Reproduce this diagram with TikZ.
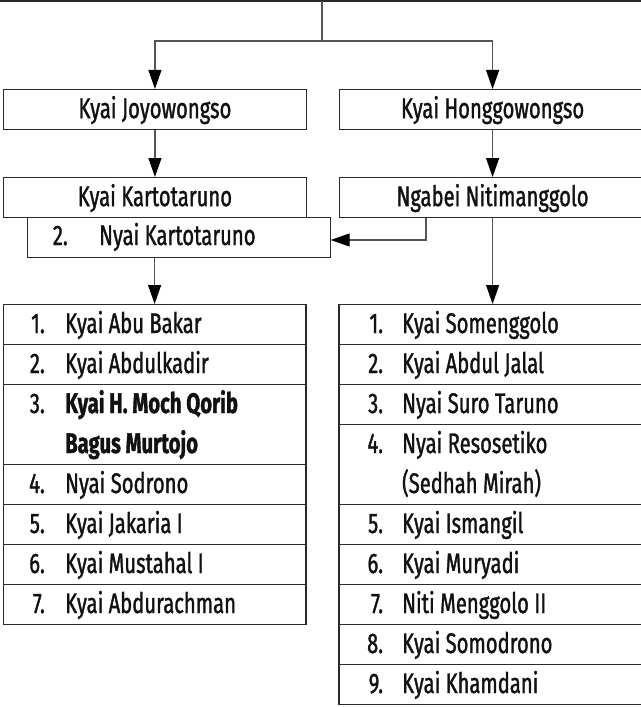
\documentclass[tikz,border=0pt]{standalone}
\usepackage{fontspec}
\setmainfont{Fira Sans}[FakeStretch=0.715, FakeBold=1.2]
\usetikzlibrary{arrows.meta}
\definecolor{boxc}{HTML}{2A2A2A}
\definecolor{linec}{HTML}{555555}
\definecolor{txtc}{HTML}{111111}
\tikzset{
  box/.style={draw=boxc, line width=1.2bp, fill=white, inner sep=0pt, text height=17bp, text depth=0pt, anchor=north west, text=txtc},
  rowbox/.style={draw=boxc, line width=1.2bp, fill=white, inner sep=0pt, anchor=north west},
  conn/.style={draw=linec, line width=1.1bp},
  arr/.style={conn, -{Triangle[length=19bp,width=13bp,color=black]}},
  lbl/.style={inner sep=0pt, anchor=base west, text=txtc},
  num/.style={inner sep=0pt, anchor=base east, text=txtc}
}
\newcommand\listrow[9]{%
  \node[rowbox, minimum width={(#3-#2)*1bp}, minimum height={(#5-#4)*1bp}] (#1) at (#2,#4) {};
  \node[num] (#1n) at (#8,#4+29) {#6};
  \node[lbl] (#1t) at (#9,#4+29) {#7};
}
\begin{document}
\begin{tikzpicture}[x=1bp,y=-1bp, font=\fontsize{28.3bp}{32bp}\selectfont]
\useasboundingbox (0,0) rectangle (641,707);
\clip (0,0) rectangle (641,707);
\fill[white] (0,0) rectangle (641,707);

% top line (edge of the box above)
\coordinate (tl) at (0,1);
\coordinate (tr) at (641,1);
\draw[draw=boxc, line width=2.2bp] (tl) -- (tr);
\coordinate (top) at (322,1);
\coordinate (split) at (322,41);

% upper boxes
\node[box, minimum width=303.3bp, minimum height=40bp] (jo) at (2.7,89) {Kyai Joyowongso};
\node[box, minimum width=306bp, minimum height=40bp] (ho) at (339,89) {Kyai Honggowongso};
\node[box, minimum width=303.3bp, minimum height=40bp] (ka) at (2.7,177) {Kyai Kartotaruno};
\node[box, minimum width=306bp, minimum height=40bp] (ng) at (339,177) {Ngabei Nitimanggolo};
\node[rowbox, minimum width=302.5bp, minimum height=40bp] (ny) at (27,217) {};
\node[num] (nyn) at (68,245) {2.};
\node[lbl] (nyt) at (99,245) {Nyai Kartotaruno};

% left list
\listrow{L1}{2.7}{305.3}{304}{344}{1.}{Kyai Abu Bakar}{45}{65}
\listrow{L2}{2.7}{305.3}{344}{384}{2.}{Kyai Abdulkadir}{45}{65}
\listrow{L3}{2.7}{305.3}{384}{464}{3.}{\textbf{Kyai H. Moch Qorib}}{45}{65}
\node[lbl] (L3t2) at (65,453) {\textbf{Bagus Murtojo}};
\listrow{L4}{2.7}{305.3}{464}{504}{4.}{Nyai Sodrono}{45}{65}
\listrow{L5}{2.7}{305.3}{504}{544}{5.}{Kyai Jakaria I}{45}{65}
\listrow{L6}{2.7}{305.3}{544}{584}{6.}{Kyai Mustahal I}{45}{65}
\listrow{L7}{2.7}{305.3}{584}{624}{7.}{Kyai Abdurachman}{45}{65}

% right list
\listrow{R1}{338.3}{645}{304}{344}{1.}{Kyai Somenggolo}{383.3}{402}
\listrow{R2}{338.3}{645}{344}{384}{2.}{Kyai Abdul Jalal}{383.3}{402}
\listrow{R3}{338.3}{645}{384}{424}{3.}{Nyai Suro Taruno}{383.3}{402}
\listrow{R4}{338.3}{645}{424}{504}{4.}{Nyai Resosetiko}{383.3}{402}
\node[lbl] (R4t2) at (402,493) {(Sedhah Mirah)};
\listrow{R5}{338.3}{645}{504}{544}{5.}{Kyai Ismangil}{383.3}{402}
\listrow{R6}{338.3}{645}{544}{584}{6.}{Kyai Muryadi}{383.3}{402}
\listrow{R7}{338.3}{645}{584}{624}{7.}{Niti Menggolo II}{383.3}{402}
\listrow{R8}{338.3}{645}{624}{664}{8.}{Kyai Somodrono}{383.3}{402}
\listrow{R9}{338.3}{645}{664}{704}{9.}{Kyai Khamdani}{383.3}{402}

% connectors
\draw[conn] (top) -- (split);
\draw[arr] (split) -| (jo.north);
\draw[arr] (split) -| (ho.north);
\draw[arr] (jo.south) -- (ka.north);
\draw[arr] (ho.south) -- (ng.north);
\coordinate (nk) at (426,240);
\draw[arr] (ng.south -| nk) |- (nk -| ny.east);
\draw[arr] (ny.south -| L1.north) -- (L1.north);
\draw[arr] (ng.south) -- (ng.south |- R1.north);
\end{tikzpicture}
\end{document}
